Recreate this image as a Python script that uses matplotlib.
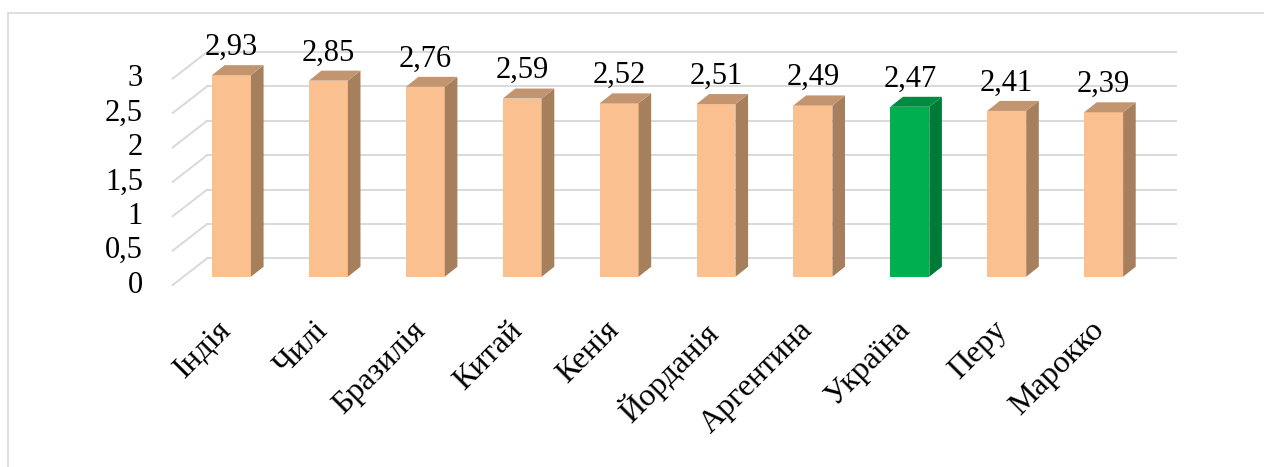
import matplotlib
matplotlib.use("Agg")
import matplotlib.pyplot as plt
from matplotlib.patches import Polygon, Rectangle

countries = ["Індія", "Чилі", "Бразилія", "Китай", "Кенія", "Йорданія",
             "Аргентина", "Україна", "Перу", "Марокко"]
values = [2.93, 2.85, 2.76, 2.59, 2.52, 2.51, 2.49, 2.47, 2.41, 2.39]
highlight = "Україна"
grid_values = [0, 0.5, 1, 1.5, 2, 2.5, 3]
grid_labels = ["0", "0,5", "1", "1,5", "2", "2,5", "3"]

# colours: front, side, top
peach = ("#FAC090", "#A67F5C", "#C29470")
green = ("#00B050", "#007A37", "#008C40")
grid_col = "#D9D9D9"

# pseudo-3d geometry (data units)
half_w = 0.201
bar_dx, bar_dy = 0.130, 0.145
wall_x0, wall_x1, wall_dy = -0.253, 9.746, 0.265
floor_x, floor_dy = -0.607, -0.121

plt.rcParams["font.family"] = ["Liberation Serif", "DejaVu Serif"]
fs = 22
fs_x = 23

fig = plt.figure(figsize=(12.64, 4.67), dpi=100)
ax = fig.add_axes([0, 0, 1, 1])
ax.set_xlim(-2.389, 10.655)
ax.set_ylim(-2.766, 4.022)
ax.axis("off")

# back wall gridlines and left side wall lines
for v, lab in zip(grid_values, grid_labels):
    ax.plot([wall_x0, wall_x1], [v + wall_dy, v + wall_dy], color=grid_col, lw=1.4, zorder=1)
    ax.plot([floor_x, wall_x0], [v + floor_dy, v + wall_dy], color=grid_col, lw=1.4, zorder=1)
    ax.text(-0.913, v + floor_dy, lab, ha="right", va="center", fontsize=fs)

for i, (name, h) in enumerate(zip(countries, values)):
    front, side, top = green if name == highlight else peach
    ax.add_patch(Polygon([(i - half_w, 0), (i + half_w, 0), (i + half_w, h), (i - half_w, h)],
                         closed=True, facecolor=front, edgecolor="none", zorder=3))
    ax.add_patch(Polygon([(i + half_w, 0), (i + half_w + bar_dx, bar_dy),
                          (i + half_w + bar_dx, h + bar_dy), (i + half_w, h)],
                         closed=True, facecolor=side, edgecolor="none", zorder=3))
    ax.add_patch(Polygon([(i - half_w, h), (i + half_w, h),
                          (i + half_w + bar_dx, h + bar_dy), (i - half_w + bar_dx, h + bar_dy)],
                         closed=True, facecolor=top, edgecolor="none", zorder=3))
    ax.text(i, h + bar_dy + 0.15, f"{h:.2f}".replace(".", ","), ha="center", va="baseline",
            fontsize=fs, zorder=4)
    ax.text(i - 0.15, -0.57, name, rotation=45, rotation_mode="anchor",
            ha="right", va="top", fontsize=fs_x)

fig.patches.append(Rectangle((7.5 / 1264, -0.1), 1.2, (467 - 12.5) / 467 + 0.1,
                             transform=fig.transFigure, fill=False,
                             edgecolor=grid_col, lw=1.2))

fig.savefig("out.png", dpi=100)
